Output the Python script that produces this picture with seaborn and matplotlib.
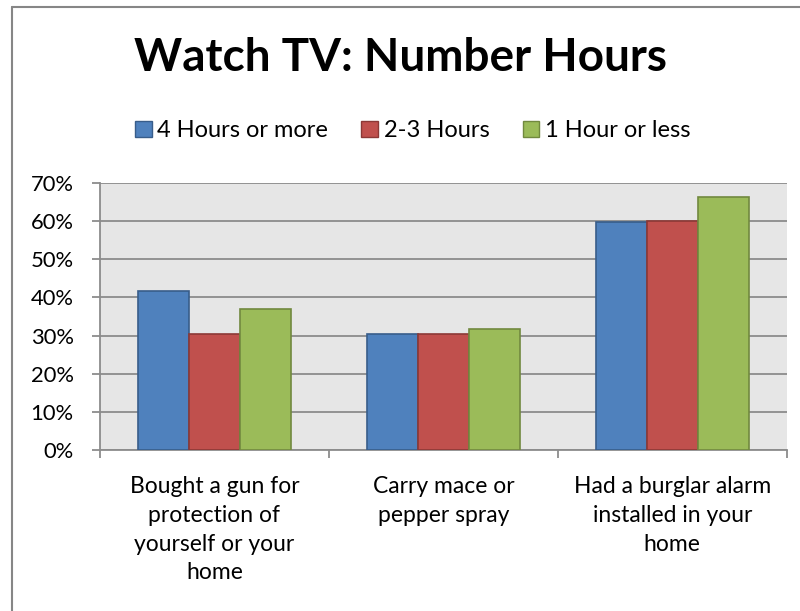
import matplotlib

matplotlib.use("Agg")

import matplotlib.pyplot as plt
import pandas as pd
import seaborn as sns
from matplotlib.lines import Line2D
from matplotlib.patches import Patch
from matplotlib.ticker import FuncFormatter, MultipleLocator

categories = [
    "Bought a gun for\nprotection of\nyourself or your\nhome",
    "Carry mace or\npepper spray",
    "Had a burglar alarm\ninstalled in your\nhome",
]
series_names = ["4 Hours or more", "2-3 Hours", "1 Hour or less"]
hours_4_plus = [0.417, 0.304, 0.598]
hours_2_3 = [0.303, 0.304, 0.600]
hours_1_less = [0.369, 0.317, 0.662]

fill_colors = ["#4F81BD", "#C0504D", "#9BBB59"]
edge_colors = ["#385D8A", "#8C3836", "#71893F"]

sns.set_theme(style="white")
plt.rcParams["font.family"] = ["Lato", "DejaVu Sans"]
plt.rcParams["text.color"] = "black"
plt.rcParams["xtick.color"] = "black"
plt.rcParams["ytick.color"] = "black"

df = pd.DataFrame(
    {
        "category": categories * 3,
        "series": [s for s in series_names for _ in categories],
        "value": hours_4_plus + hours_2_3 + hours_1_less,
    }
)

fig = plt.figure(figsize=(8, 6.11), dpi=100)
ax = fig.add_axes([100 / 800, 1 - 450 / 611, 686.7 / 800, 267 / 611])

sns.barplot(
    data=df,
    x="category",
    y="value",
    hue="series",
    order=categories,
    hue_order=series_names,
    palette=fill_colors,
    saturation=1,
    width=0.67,
    gap=0,
    legend=False,
    ax=ax,
)

for container, ec in zip(ax.containers, edge_colors):
    for bar in container:
        bar.set_edgecolor(ec)
        bar.set_linewidth(1.2)
        bar.set_zorder(3)

ax.set_facecolor("#E6E6E6")
ax.set_ylim(0, 0.70)
ax.set_xlim(-0.5, 2.5)
ax.yaxis.set_major_locator(MultipleLocator(0.10))
ax.yaxis.set_major_formatter(FuncFormatter(lambda v, _: f"{v * 100:.0f}%"))
ax.grid(axis="y", color="#8C8C8C", linewidth=1.3, zorder=1)
ax.set_axisbelow(True)

for side in ["top", "right"]:
    ax.spines[side].set_visible(False)
for side in ["left", "bottom"]:
    ax.spines[side].set_color("#8C8C8C")
    ax.spines[side].set_linewidth(1.3)

ax.tick_params(axis="y", which="major", direction="out", length=6, width=1.3,
               color="#8C8C8C", labelsize=15.8, pad=13, left=True)
ax.set_xticks([0, 1, 2])
ax.set_xticklabels(categories, fontsize=16.5, linespacing=1.45)
ax.tick_params(axis="x", which="major", length=0, pad=19)
ax.set_xticks([-0.5, 0.5, 1.5, 2.5], minor=True)
ax.tick_params(axis="x", which="minor", direction="out", length=6, width=1.3,
               color="#8C8C8C", bottom=True)
ax.set_xlabel("")
ax.set_ylabel("")

fig.text(0.5, 1 - 58 / 611, "Watch TV: Number Hours", ha="center", va="center",
         fontsize=33, fontweight="bold")

handles = [Patch(facecolor=fc, edgecolor=ec, linewidth=1) for fc, ec in zip(fill_colors, edge_colors)]
fig.legend(
    handles,
    series_names,
    loc="center",
    bbox_to_anchor=(0.516, 1 - 131 / 611),
    ncol=3,
    frameon=False,
    fontsize=17,
    handlelength=0.7,
    handleheight=0.7,
    handletextpad=0.25,
    columnspacing=1.4,
)

fig.add_artist(Line2D([11.5 / 800, 1], [1 - 6.5 / 611, 1 - 6.5 / 611], color="#868686", linewidth=1.5))
fig.add_artist(Line2D([11.5 / 800, 11.5 / 800], [0, 1 - 6.5 / 611], color="#868686", linewidth=1.5))

fig.savefig("out.png", dpi=100)
